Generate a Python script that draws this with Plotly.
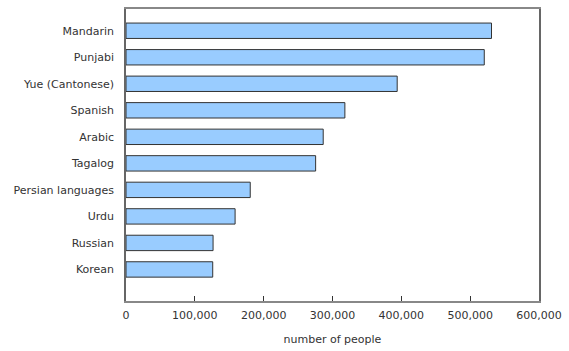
import plotly.graph_objects as go

languages = ["Mandarin", "Punjabi", "Yue (Cantonese)", "Spanish", "Arabic",
             "Tagalog", "Persian languages", "Urdu", "Russian", "Korean"]
people = [531000, 520500, 394000, 318000, 286500, 275500, 180500, 158500, 126500, 126000]
x_ticks = [0, 100000, 200000, 300000, 400000, 500000, 600000]
x_tick_labels = ["0", "100,000", "200,000", "300,000", "400,000", "500,000", "600,000"]

fig = go.Figure(go.Bar(
    x=people, y=languages, orientation="h",
    width=0.58,
    marker=dict(color="#99CCFF", line=dict(color="#333333", width=1)),
    hoverinfo="x+y",
))

font = dict(family="DejaVu Sans, Verdana, sans-serif", size=11, color="#333333")
fig.update_layout(
    width=569, height=351,
    margin=dict(l=126, r=27, t=7, b=48),
    paper_bgcolor="white", plot_bgcolor="white",
    font=font,
    showlegend=False,
    xaxis=dict(
        range=[0, 600000], tickvals=x_ticks, ticktext=x_tick_labels,
        ticks="inside", ticklen=5, tickcolor="#333333", tickwidth=1,
        showgrid=False, zeroline=False,
        showline=True, linecolor="#888888", linewidth=1.5, mirror=True,
        ticklabelstandoff=3,
        title=dict(text="number of people", standoff=14, font=font),
        tickfont=font,
    ),
    yaxis=dict(
        categoryorder="array", categoryarray=languages,
        range=[10.19, -0.82],
        showgrid=False, zeroline=False, ticks="",
        showline=True, linecolor="#666666", linewidth=1.5, mirror=True,
        ticklabelstandoff=8,
        tickfont=font,
    ),
)

fig.write_html("out.html")
